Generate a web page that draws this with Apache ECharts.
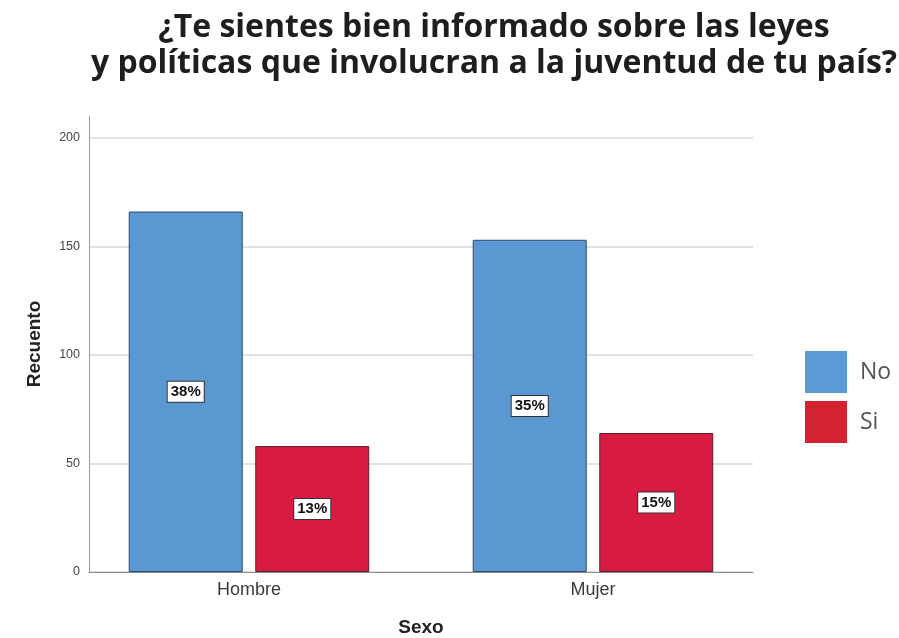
<!DOCTYPE html>
<html>
<head>
<meta charset="utf-8">
<title>Leyes y políticas juventud</title>
<script src="https://cdn.jsdelivr.net/npm/echarts@6/dist/echarts.min.js"></script>
<style>
  html, body { margin: 0; padding: 0; background: #fff; }
  #chart { width: 899px; height: 638px; }
</style>
</head>
<body>
<div id="chart"></div>
<script>
// datos
const categorias = ['Hombre', 'Mujer'];
const serieNo = [166, 153];
const serieSi = [58, 64];
const nombresSerie = ['No', 'Si'];
const ticksY = [0, 50, 100, 150, 200];

const total = serieNo.concat(serieSi).reduce((a, b) => a + b, 0);

const chart = echarts.init(document.getElementById('chart'));

// el grid 0 lleva ejes y rejilla, el grid 1 las barras (centradas como en el original)
const gridTop = 116, gridBottom = 66;

const etiqueta = {
  show: true,
  position: 'inside',
  formatter: p => Math.round(p.value / total * 100) + '%',
  color: '#111',
  fontFamily: 'Liberation Sans Narrow, Liberation Sans, Arial',
  fontWeight: 'bold',
  fontSize: 15,
  backgroundColor: '#fff',
  borderColor: '#333',
  borderWidth: 1,
  padding: [3, 3, 2, 3]
};

const option = {
  animation: false,
  backgroundColor: '#fff',
  title: {
    text: '¿Te sientes bien informado sobre las leyes\ny políticas que involucran a la juventud de tu país?',
    left: 489,
    textAlign: 'center',
    top: 5,
    textStyle: {
      fontFamily: 'Open Sans',
      fontWeight: 'bold',
      fontSize: 32,
      lineHeight: 36,
      color: '#1e1e1e'
    }
  },
  legend: {
    orient: 'vertical',
    left: 805,
    top: 351,
    padding: 0,
    itemWidth: 42,
    itemHeight: 42,
    itemGap: 8,
    icon: 'rect',
    textStyle: { fontFamily: 'Open Sans', fontSize: 23, color: '#555', padding: [0, 0, 0, 8] },
    data: [
      { name: nombresSerie[0], itemStyle: { color: '#5b9bd5', borderWidth: 0 } },
      { name: nombresSerie[1], itemStyle: { color: '#d32230', borderWidth: 0 } }
    ]
  },
  grid: [
    { left: 89, right: 146, top: gridTop, bottom: gridBottom, outerBoundsMode: 'none' },
    { left: 77, right: 134, top: gridTop, bottom: gridBottom, outerBoundsMode: 'none' }
  ],
  xAxis: [
    {
      gridIndex: 0,
      type: 'value',
      min: 0,
      max: 1,
      name: 'Sexo',
      nameLocation: 'middle',
      nameGap: 46,
      nameTextStyle: { fontFamily: 'Liberation Sans', fontWeight: 'bold', fontSize: 19, color: '#222' },
      axisLine: { show: true, lineStyle: { color: '#8c8c8c', width: 1 } },
      axisTick: { show: false },
      axisLabel: { show: false },
      splitLine: { show: false }
    },
    {
      gridIndex: 1,
      type: 'category',
      data: categorias,
      axisLine: { show: false },
      axisTick: { show: false },
      axisLabel: { margin: 9, fontFamily: 'Liberation Sans', fontSize: 18, color: '#3a3a3a' },
      splitLine: { show: false }
    }
  ],
  yAxis: [
    {
      gridIndex: 0,
      type: 'value',
      min: ticksY[0],
      max: 210,
      interval: 50,
      name: 'Recuento',
      nameLocation: 'middle',
      nameGap: 45,
      nameTextStyle: { fontFamily: 'Liberation Sans', fontWeight: 'bold', fontSize: 19, color: '#222' },
      axisLine: { show: true, lineStyle: { color: '#9a9a9a', width: 1 } },
      axisTick: { show: false },
      axisLabel: { showMaxLabel: false, margin: 9, fontFamily: 'Liberation Sans', fontSize: 12.5, color: '#444' },
      splitLine: {
        show: true,
        lineStyle: { color: ['#d9d9d9', '#d9d9d9', '#d9d9d9', '#d9d9d9', '#d9d9d9', 'rgba(0,0,0,0)'], width: 1.5 }
      }
    },
    {
      gridIndex: 1,
      type: 'value',
      min: ticksY[0],
      max: 210,
      show: false
    }
  ],
  series: [
    {
      name: nombresSerie[0],
      type: 'bar',
      xAxisIndex: 1,
      yAxisIndex: 1,
      data: serieNo,
      barWidth: 114,
      barGap: '11%',
      itemStyle: { color: '#5b98d1', borderColor: '#2c4c6e', borderWidth: 1 },
      label: etiqueta
    },
    {
      name: nombresSerie[1],
      type: 'bar',
      xAxisIndex: 1,
      yAxisIndex: 1,
      data: serieSi,
      barWidth: 114,
      itemStyle: { color: '#d81c41', borderColor: '#5a1f28', borderWidth: 1 },
      label: etiqueta
    }
  ]
};

chart.setOption(option);
</script>
</body>
</html>
